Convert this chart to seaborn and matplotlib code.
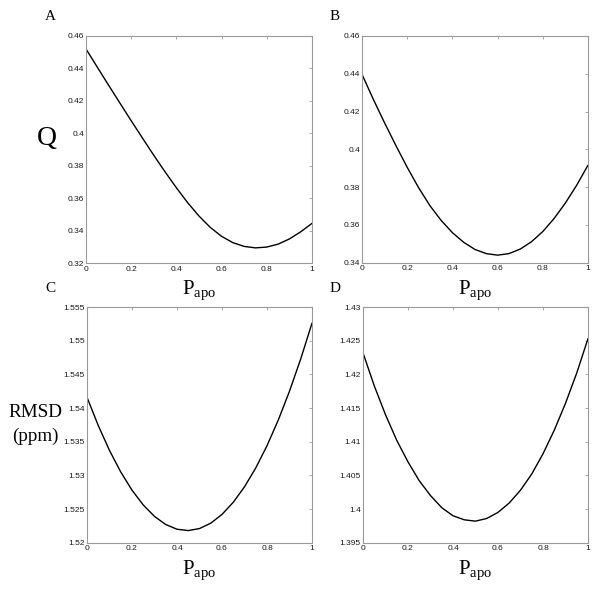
import matplotlib
matplotlib.use("Agg")
import matplotlib.pyplot as plt
from matplotlib.ticker import FuncFormatter
import seaborn as sns
import pandas as pd

# ---- data ----
p_apo = [0.00, 0.05, 0.10, 0.15, 0.20, 0.25, 0.30, 0.35, 0.40, 0.45, 0.50,
         0.55, 0.60, 0.65, 0.70, 0.75, 0.80, 0.85, 0.90, 0.95, 1.00]

q_a = [0.4520, 0.4408, 0.4297, 0.4187, 0.4078, 0.3971, 0.3865, 0.3763, 0.3665,
       0.3573, 0.3491, 0.3421, 0.3366, 0.3327, 0.3304, 0.3295, 0.3300, 0.3318,
       0.3350, 0.3394, 0.3446]

q_b = [0.4397, 0.4265, 0.4140, 0.4020, 0.3905, 0.3798, 0.3703, 0.3624, 0.3559,
       0.3508, 0.3470, 0.3448, 0.3440, 0.3448, 0.3472, 0.3511, 0.3565, 0.3634,
       0.3716, 0.3810, 0.3916]

rmsd_c = [1.5416, 1.5374, 1.5337, 1.5305, 1.5278, 1.5256, 1.5239, 1.5227, 1.5220,
          1.5218, 1.5221, 1.5229, 1.5242, 1.5260, 1.5283, 1.5311, 1.5344, 1.5382,
          1.5425, 1.5473, 1.5526]

rmsd_d = [1.4232, 1.4183, 1.4140, 1.4102, 1.4070, 1.4042, 1.4020, 1.4002, 1.3990,
          1.3984, 1.3982, 1.3986, 1.3995, 1.4009, 1.4028, 1.4052, 1.4082, 1.4117,
          1.4157, 1.4202, 1.4253]

x_ticks = [0, 0.2, 0.4, 0.6, 0.8, 1]
y_ticks_a = [0.32, 0.34, 0.36, 0.38, 0.40, 0.42, 0.44, 0.46]
y_ticks_b = [0.34, 0.36, 0.38, 0.40, 0.42, 0.44, 0.46]
y_ticks_c = [1.52, 1.525, 1.53, 1.535, 1.54, 1.545, 1.55, 1.555]
y_ticks_d = [1.395, 1.40, 1.405, 1.41, 1.415, 1.42, 1.425, 1.43]
panel_letters = ["A", "B", "C", "D"]
x_label = r"$\mathregular{P_{apo}}$"
y_label_top = "Q"
y_label_bottom = "RMSD\n(ppm)"

# ---- style ----
sns.set_theme(style="white")
plt.rcParams.update({
    "font.family": ["Liberation Sans", "DejaVu Sans"],
    "axes.edgecolor": "#9a9a9a",
    "axes.linewidth": 0.8,
    "xtick.color": "#9a9a9a",
    "ytick.color": "#9a9a9a",
    "xtick.labelcolor": "#1a1a1a",
    "ytick.labelcolor": "#1a1a1a",
    "xtick.direction": "in",
    "ytick.direction": "in",
    "xtick.major.size": 2.2,
    "ytick.major.size": 2.2,
    "xtick.major.width": 0.6,
    "ytick.major.width": 0.6,
    "xtick.major.pad": 2.0,
    "ytick.major.pad": 1.5,
    "xtick.labelsize": 6,
    "ytick.labelsize": 6,
    "mathtext.fontset": "custom",
    "mathtext.rm": "Liberation Serif",
})

W, H = 600, 595
fig = plt.figure(figsize=(6.0, 5.95), dpi=100)

# pixel boxes (left, top, right, bottom)
boxes = [(86, 36, 312, 263.3), (362, 36, 588, 262.7),
         (87, 307, 312, 542.7), (363, 307, 588, 542.7)]
series = [q_a, q_b, rmsd_c, rmsd_d]
yticks = [y_ticks_a, y_ticks_b, y_ticks_c, y_ticks_d]

fmt = FuncFormatter(lambda v, _: f"{v:g}")
serif = ["Liberation Serif", "DejaVu Serif"]

axes = []
for box, vals, yt in zip(boxes, series, yticks):
    l, t, r, b = box
    ax = fig.add_axes([l / W, 1 - b / H, (r - l) / W, (b - t) / H])
    df = pd.DataFrame({"P_apo": p_apo, "value": vals})
    sns.lineplot(data=df, x="P_apo", y="value", ax=ax, color="black",
                 linewidth=1.0, sort=False, solid_joinstyle="round",
                 solid_capstyle="round")
    ax.set_xlim(0, 1)
    ax.set_ylim(yt[0], yt[-1])
    ax.set_xticks(x_ticks)
    ax.set_yticks(yt)
    ax.xaxis.set_major_formatter(fmt)
    ax.yaxis.set_major_formatter(fmt)
    ax.tick_params(top=True, right=True, labeltop=False, labelright=False)
    ax.set_xlabel(x_label, fontsize=15, family=serif, color="black")
    ax.xaxis.set_label_coords(0.5, -0.068)
    ax.set_ylabel("")
    for s in ax.spines.values():
        s.set_visible(True)
    axes.append(ax)

# y labels
axes[0].set_ylabel(y_label_top, rotation=0, fontsize=20, family=serif,
                   color="black", ha="center", va="center")
axes[0].yaxis.set_label_coords(-0.173, 0.55)
axes[2].set_ylabel(y_label_bottom, rotation=0, fontsize=13.8, family=serif,
                   color="black", ha="center", va="center", linespacing=1.5)
axes[2].yaxis.set_label_coords(-0.228, 0.50)

# panel letters
letter_pos = [(50, 17), (335, 17), (50, 288), (335, 288)]
for (px, py), letter in zip(letter_pos, panel_letters):
    fig.text(px / W, 1 - py / H, letter, ha="center", va="center",
             fontsize=11, family=serif, color="black")

fig.savefig("out.png", dpi=100)
